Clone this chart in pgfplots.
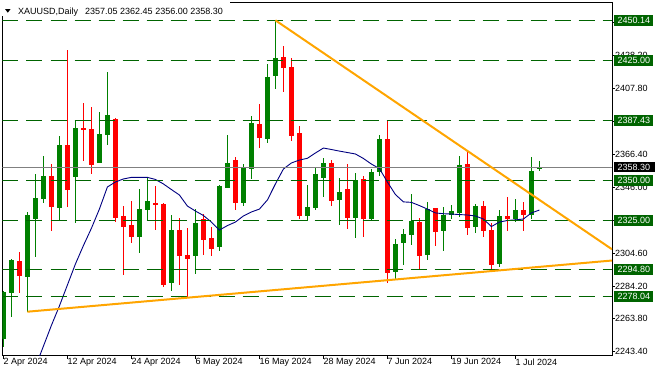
\documentclass[border=0pt]{standalone}
\usepackage{fontspec}
\setmainfont{Liberation Sans}
\usepackage{pgfplots}
\usepackage{pgfplotstable}
\pgfplotsset{compat=1.18}
\definecolor{upc}{RGB}{0,128,0}
\definecolor{dnc}{RGB}{255,0,0}
\definecolor{lvl}{RGB}{0,100,0}
\definecolor{mac}{RGB}{0,0,128}
\definecolor{tlc}{RGB}{255,165,0}
\definecolor{bidc}{RGB}{128,128,128}

\pgfplotstableread{
i o h l c
0 2251.2 2281.4 2246.4 2280.7
1 2280.1 2301.1 2265.1 2300.5
3 2290.1 2330.5 2268.3 2328.6
4 2326.1 2354.2 2302.6 2339.2
5 2338.8 2365.4 2336.3 2353.0
7 2333.2 2377.9 2325.5 2372.3
9 2352.5 2387.9 2323.8 2382.9
12 2361.3 2392.9 2360.9 2379.2
13 2378.5 2417.9 2372.3 2391.0
17 2315.1 2344.8 2304.7 2332.4
18 2331.9 2351.9 2325.5 2337.4
21 2286.4 2328.6 2281.4 2319.2
24 2303.2 2332.4 2291.6 2323.6
27 2308.5 2347.3 2306.3 2346.7
28 2345.7 2378.5 2345.3 2360.9
30 2336.3 2360.3 2334.2 2357.9
31 2357.5 2390.4 2351.1 2386.0
33 2376.1 2422.9 2373.7 2414.9
34 2415.6 2450.1 2407.3 2426.6
38 2328.0 2347.3 2324.7 2333.6
39 2333.0 2358.1 2331.7 2354.2
40 2351.7 2364.4 2340.0 2361.1
42 2338.0 2351.7 2322.4 2343.0
44 2326.7 2354.8 2314.4 2350.5
46 2326.1 2357.3 2325.5 2355.5
47 2355.5 2378.4 2353.0 2376.1
49 2293.2 2313.6 2288.9 2310.5
50 2311.1 2319.9 2297.4 2316.8
51 2316.1 2341.7 2309.9 2324.9
53 2303.6 2336.7 2300.5 2332.4
55 2318.6 2333.8 2306.1 2328.6
56 2328.6 2334.9 2326.1 2331.1
57 2329.9 2365.4 2327.4 2359.8
59 2321.1 2335.5 2317.4 2334.2
62 2298.0 2331.7 2296.2 2328.0
64 2326.1 2338.6 2324.2 2331.7
66 2328.6 2364.8 2326.1 2356.1
67 2357.05 2362.45 2356.00 2358.30
}\upcandles

\pgfplotstableread{
i o h l c
2 2300.1 2305.5 2279.7 2290.7
6 2353.0 2360.4 2318.8 2333.8
8 2372.3 2431.6 2333.8 2344.4
10 2382.9 2398.7 2362.5 2382.3
11 2382.3 2396.2 2354.2 2359.8
14 2388.7 2389.2 2324.4 2326.9
15 2328.0 2334.2 2291.2 2321.3
16 2322.4 2337.4 2311.3 2315.1
19 2336.1 2346.7 2319.2 2335.0
20 2335.7 2336.1 2283.9 2284.9
22 2319.2 2326.7 2284.9 2303.2
23 2303.6 2320.5 2277.6 2301.3
25 2326.1 2329.2 2303.6 2313.0
26 2314.3 2321.4 2303.0 2307.6
29 2362.9 2365.0 2331.7 2336.3
32 2385.4 2397.9 2370.6 2376.5
35 2427.2 2434.1 2405.6 2420.6
36 2421.0 2426.4 2374.8 2377.9
37 2379.8 2384.2 2325.9 2328.0
41 2361.1 2362.9 2334.2 2337.4
43 2344.8 2360.3 2319.9 2326.7
45 2351.1 2353.1 2315.1 2326.1
48 2376.1 2387.9 2286.4 2292.6
52 2324.4 2326.7 2294.9 2303.2
54 2333.0 2333.0 2309.3 2318.0
58 2360.6 2368.1 2316.1 2320.5
60 2334.2 2337.4 2314.9 2318.6
61 2319.2 2323.4 2294.9 2297.4
63 2328.0 2339.8 2318.6 2326.1
65 2331.7 2336.7 2318.6 2328.6
}\downcandles

\pgfplotstableread{
i v
4 2233.7
5 2246.7
6 2259.7
7 2271.8
8 2284.9
9 2298.0
10 2309.5
11 2320.3
12 2332.3
13 2346.1
14 2349.2
15 2351.1
16 2352.1
17 2352.1
18 2352.1
19 2350.8
20 2348.0
21 2344.5
22 2341.1
23 2334.2
24 2331.1
25 2328.3
26 2324.2
27 2319.2
28 2322.0
29 2324.2
30 2328.0
31 2330.5
32 2332.3
33 2338.0
34 2348.0
35 2357.3
36 2361.1
37 2362.9
38 2364.0
39 2367.3
40 2370.4
41 2369.5
42 2368.5
43 2367.6
44 2366.7
45 2363.9
46 2360.4
47 2357.6
48 2349.2
49 2341.4
50 2336.8
51 2336.5
52 2334.5
53 2332.3
54 2329.9
55 2329.4
56 2329.2
57 2328.9
58 2328.6
59 2328.0
60 2326.1
61 2321.4
62 2324.2
63 2325.2
64 2325.6
65 2326.1
66 2329.9
67 2331.7
}\matable

\newcommand{\fs}{\fontsize{9}{11}\selectfont}

\begin{document}
\begin{tikzpicture}[font=\fs]
\path[use as bounding box] (0,0) rectangle (658pt,376pt);
\begin{axis}[
  at={(2.5pt,20.5pt)}, anchor=south west,
  scale only axis, width=609.5pt, height=353.5pt,
  xmin=-0.1125, xmax=76.075, ymin=2240.91, ymax=2461.56,
  axis line style={black, line width=0.9pt},
  tick align=outside, major tick length=3pt,
  tick style={black, line width=0.8pt},
  xtick={0,8,...,64},
  xticklabels={2 Apr 2024,12 Apr 2024,24 Apr 2024,6 May 2024,16 May 2024,28 May 2024,7 Jun 2024,19 Jun 2024,1 Jul 2024},
  xtick pos=bottom,
  ytick={2243.4,2263.8,2284.2,2304.6,2325.0,2346.0,2366.4,2386.8,2407.8,2428.2,2448.6},
  yticklabels={2243.40,2263.80,2284.20,2304.60,,2346.00,2366.40,,2407.80,2428.20,2448.60},
  ytick pos=right, yticklabel pos=right,
  tick label style={font=\fs},
  xticklabel style={anchor=north west, inner sep=0pt},
  yticklabel style={anchor=west, inner sep=0pt},
  clip=true,
]
% wicks
\addplot[draw=none, forget plot, error bars/.cd, y dir=both, y explicit, error mark=none,
  error bar style={draw=upc, line width=1pt}]
  table[x=i, y expr={(\thisrow{h}+\thisrow{l})/2}, y error expr={(\thisrow{h}-\thisrow{l})/2}] {\upcandles};
\addplot[draw=none, forget plot, error bars/.cd, y dir=both, y explicit, error mark=none,
  error bar style={draw=dnc, line width=1pt}]
  table[x=i, y expr={(\thisrow{h}+\thisrow{l})/2}, y error expr={(\thisrow{h}-\thisrow{l})/2}] {\downcandles};
% bodies
\addplot[draw=none, forget plot, error bars/.cd, y dir=both, y explicit, error mark=none,
  error bar style={draw=upc, line width=5pt}]
  table[x=i, y expr={(\thisrow{o}+\thisrow{c})/2}, y error expr={max(abs(\thisrow{c}-\thisrow{o})/2,0.35)}] {\upcandles};
\addplot[draw=none, forget plot, error bars/.cd, y dir=both, y explicit, error mark=none,
  error bar style={draw=dnc, line width=5pt}]
  table[x=i, y expr={(\thisrow{o}+\thisrow{c})/2}, y error expr={max(abs(\thisrow{c}-\thisrow{o})/2,0.35)}] {\downcandles};
% moving average
\addplot[mac, line width=0.9pt] table[x=i, y=v] {\matable};
% levels
\foreach \lv in {2450.14,2425.00,2387.43,2350.00,2325.00,2294.80,2278.04}{
  \edef\tmp{\noexpand\addplot[lvl, line width=1pt, dash pattern=on 16pt off 8pt] coordinates {(-0.1125,\lv) (76.075,\lv)};}
  \tmp
}
% bid line
\addplot[bidc, line width=0.9pt] coordinates {(-0.1125,2358.30) (76.075,2358.30)};
% trend lines
\addplot[tlc, line width=2pt] coordinates {(34,2450.14) (76.075,2307.2)};
\addplot[tlc, line width=2pt] coordinates {(3,2268.25) (76.075,2300.2)};
\coordinate (A1) at (axis cs:76.075,2450.14);
\coordinate (A2) at (axis cs:76.075,2425.00);
\coordinate (A3) at (axis cs:76.075,2387.43);
\coordinate (A4) at (axis cs:76.075,2350.00);
\coordinate (A5) at (axis cs:76.075,2325.00);
\coordinate (A6) at (axis cs:76.075,2294.80);
\coordinate (A7) at (axis cs:76.075,2278.04);
\coordinate (B1) at (axis cs:76.075,2358.30);
\end{axis}
\foreach \c/\t in {A1/2450.14,A2/2425.00,A3/2387.43,A4/2350.00,A5/2325.00,A6/2294.80,A7/2278.04}{
  \fill[lvl] ([xshift=2pt,yshift=-5.5pt]\c) rectangle ++(38.5pt,11pt);
  \node[anchor=west, text=white, inner sep=0pt] at ([xshift=5.5pt]\c) {\t};
}
\fill[black] ([xshift=2pt,yshift=-5pt]B1) rectangle ++(41pt,10pt);
\node[anchor=west, text=white, inner sep=0pt] at ([xshift=5.5pt]B1) {2358.30};
% header
\fill[white] (0,376pt) rectangle (230pt,360pt);
\fill[black] (5pt,367pt) -- (10.6pt,367pt) -- (7.8pt,363.3pt) -- cycle;
\node[anchor=base west, inner sep=0pt] at (18pt,361.8pt) {XAUUSD,Daily\hspace{7pt}2357.05 2362.45 2356.00 2358.30};
\end{tikzpicture}
\end{document}
